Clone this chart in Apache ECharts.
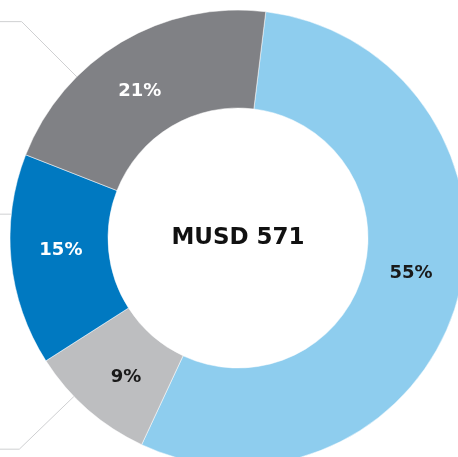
<!DOCTYPE html>
<html>
<head>
<meta charset="utf-8">
<script src="https://cdn.jsdelivr.net/npm/echarts@6/dist/echarts.min.js"></script>
<style>
  html, body { margin: 0; padding: 0; background: #fff; }
  #main { width: 458px; height: 457px; }
</style>
</head>
<body>
<div id="main"></div>
<script>
// data
var shares = [55, 9, 15, 21];
var colors = ['#8ecdee', '#bdbec0', '#0079c1', '#808185'];
var labelColors = ['#1a1a1a', '#1a1a1a', '#ffffff', '#ffffff'];
var labelOffsets = [[-2, -15], [8, 2], [4, -5], [-5, 10]];
var totalLabel = 'MUSD 571';
// leader lines at left (angle clockwise from 12 o'clock)
var leaderAngles = [315, 276, 226];
var leaderLengths = [78, 0, 76];

var cx = 238, cy = 238, rIn = 130, rOut = 228;

var myChart = echarts.init(document.getElementById('main'));

var graphics = [];
leaderAngles.forEach(function (a, i) {
    var rad = a * Math.PI / 180;
    var x0 = cx + rOut * Math.sin(rad);
    var y0 = cy - rOut * Math.cos(rad);
    var x1 = x0 + leaderLengths[i] * Math.sin(rad);
    var y1 = y0 - leaderLengths[i] * Math.cos(rad);
    graphics.push({
        type: 'polyline',
        z: -1,
        shape: { points: [[x0, y0], [x1, y1], [-5, y1]] },
        style: { stroke: '#cfd0d2', lineWidth: 1, fill: null }
    });
});
graphics.push({
    type: 'text',
    x: cx,
    y: cy,
    style: {
        text: totalLabel,
        align: 'center',
        verticalAlign: 'middle',
        fill: '#111',
        font: 'bold 23px "DejaVu Sans"'
    }
});

var option = {
    backgroundColor: '#fff',
    animation: false,
    graphic: graphics,
    series: [
        {
            type: 'pie',
            center: [cx, cy],
            radius: [rIn, rOut],
            startAngle: 83,
            clockwise: true,
            silent: true,
            itemStyle: { borderColor: '#fff', borderWidth: 0.5 },
            label: {
                show: true,
                position: 'inside',
                fontFamily: 'DejaVu Sans',
                fontWeight: 'bold',
                fontSize: 18,
                formatter: '{c}%'
            },
            labelLine: { show: false },
            data: shares.map(function (v, i) {
                return {
                    value: v,
                    itemStyle: { color: colors[i] },
                    label: { color: labelColors[i], offset: labelOffsets[i] }
                };
            })
        }
    ]
};
myChart.setOption(option);
</script>
</body>
</html>
